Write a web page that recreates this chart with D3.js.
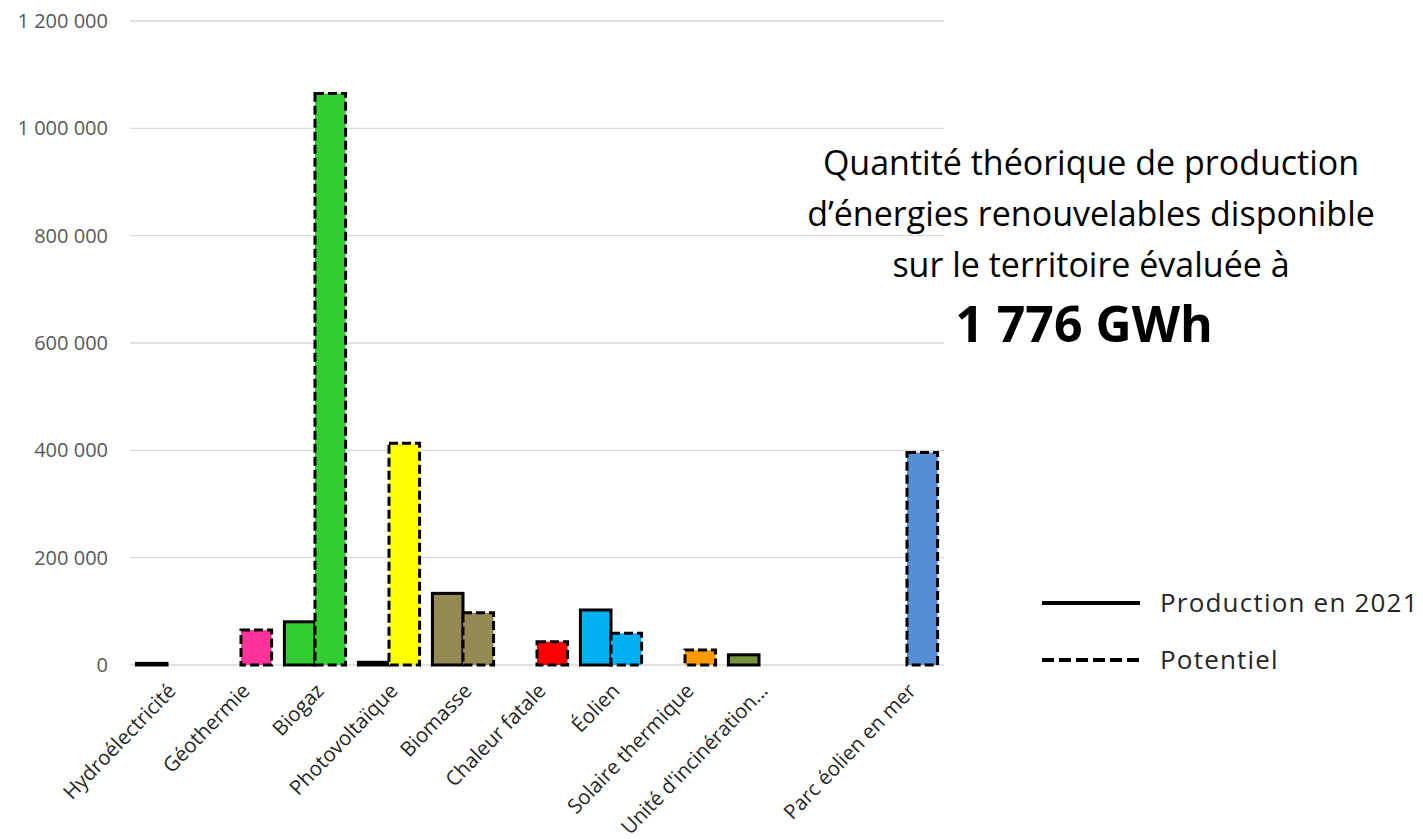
<!DOCTYPE html>
<html>
<head>
<meta charset="utf-8">
<script src="https://cdn.jsdelivr.net/npm/d3@7"></script>
<style>
  body { margin: 0; background: #fff; }
  svg { display: block; font-family: "Open Sans", sans-serif; }
</style>
</head>
<body>
<div id="chart"></div>
<script>
// Data (kWh)
const categories = ["Hydroélectricité", "Géothermie", "Biogaz", "Photovoltaïque", "Biomasse",
  "Chaleur fatale", "Éolien", "Solaire thermique", "Unité d'incinération...", " ", "Parc éolien en mer"];
const production2021 = [3000, 0, 80500, 5000, 133500, 0, 102500, 0, 19000, 0, 0];
const potentiel = [0, 65000, 1065000, 413000, 97500, 43500, 59000, 28000, 0, 0, 396000];
const barColors = ["#0070C0", "#FF3399", "#33CC33", "#FFFF00", "#948A54",
  "#FF0000", "#00B0F0", "#FF9900", "#76923C", "#FFFFFF", "#558ED5"];
const yTicks = [0, 200000, 400000, 600000, 800000, 1000000, 1200000];
const yTickLabels = ["0", "200 000", "400 000", "600 000", "800 000", "1 000 000", "1 200 000"];
const seriesNames = ["Production en 2021", "Potentiel"];
const titleLines = ["Quantité théorique de production", "d’énergies renouvelables disponible", "sur le territoire évaluée à"];
const titleTotal = "1 776 GWh";

const width = 1423, height = 839;
const plot = { left: 130, right: 944, top: 21, bottom: 665 };

const svg = d3.select("#chart").append("svg")
    .attr("width", width)
    .attr("height", height);

// Scales
const x = d3.scaleBand()
    .domain(categories)
    .range([plot.left, plot.right])
    .padding(0);

const x1 = d3.scaleBand()
    .domain(["prod", "pot"])
    .range([0, x.bandwidth()])
    .paddingInner(0)
    .paddingOuter(0.21);

const y = d3.scaleLinear()
    .domain([0, 1200000])
    .range([plot.bottom, plot.top]);

// Gridlines + y labels
svg.append("g")
    .selectAll("line")
    .data(yTicks)
    .join("line")
    .attr("x1", plot.left)
    .attr("x2", plot.right)
    .attr("y1", d => y(d))
    .attr("y2", d => y(d))
    .attr("stroke", "#d9d9d9")
    .attr("stroke-width", 1.3);

svg.append("g")
    .selectAll("text")
    .data(yTicks)
    .join("text")
    .attr("x", 108)
    .attr("y", d => y(d))
    .attr("dy", "0.35em")
    .attr("text-anchor", "end")
    .attr("fill", "#595959")
    .attr("font-size", 20)
    .text((d, i) => yTickLabels[i]);

// Bars
const rows = categories.map((c, i) => ({
    cat: c,
    color: barColors[i],
    values: [
        { key: "prod", v: production2021[i] },
        { key: "pot", v: potentiel[i] }
    ]
}));

const groups = svg.append("g")
    .selectAll("g")
    .data(rows)
    .join("g")
    .attr("transform", d => `translate(${x(d.cat)},0)`);

groups.selectAll("rect")
    .data(d => d.values.filter(e => e.v > 0).map(e => ({ ...e, color: d.color })))
    .join("rect")
    .attr("x", d => x1(d.key))
    .attr("width", x1.bandwidth())
    .attr("y", d => y(d.v))
    .attr("height", d => y(0) - y(d.v))
    .attr("fill", d => d.color)
    .attr("stroke", "#000")
    .attr("stroke-width", 3)
    .attr("stroke-dasharray", d => d.key === "pot" ? "9,4" : null);

// X labels (rotated), squeezed if too long to fit above the bottom edge
const maxLabelLen = 200;
svg.append("g")
    .selectAll("text")
    .data(categories)
    .join("text")
    .attr("text-anchor", "end")
    .attr("fill", "#262626")
    .attr("font-size", 20.5)
    .attr("transform", d => `translate(${x(d) + x.bandwidth() / 2 + 10},${plot.bottom + 27}) rotate(-46)`)
    .text(d => d)
    .each(function () {
        if (this.getComputedTextLength() > maxLabelLen) {
            d3.select(this)
                .attr("textLength", maxLabelLen)
                .attr("lengthAdjust", "spacingAndGlyphs");
        }
    });

// Legend
const legend = svg.append("g");
seriesNames.forEach((name, i) => {
    const ly = 603 + i * 57;
    legend.append("line")
        .attr("x1", 1042).attr("x2", 1140)
        .attr("y1", ly).attr("y2", ly)
        .attr("stroke", "#000")
        .attr("stroke-width", 4)
        .attr("stroke-dasharray", i === 1 ? "12,5" : null);
    legend.append("text")
        .attr("x", 1160)
        .attr("y", ly)
        .attr("dy", "0.35em")
        .attr("fill", "#262626")
        .attr("font-size", 26)
        .attr("letter-spacing", 1.2)
        .text(name);
});

// Title block
const title = svg.append("g").attr("text-anchor", "middle");
titleLines.forEach((t, i) => {
    title.append("text")
        .attr("x", 1091)
        .attr("y", 175 + i * 51)
        .attr("font-size", 34)
        .attr("fill", "#000")
        .text(t);
});
title.append("text")
    .attr("x", 1084)
    .attr("y", 342)
    .attr("font-size", 50)
    .attr("font-weight", "bold")
    .attr("fill", "#000")
    .text(titleTotal);
</script>
</body>
</html>
